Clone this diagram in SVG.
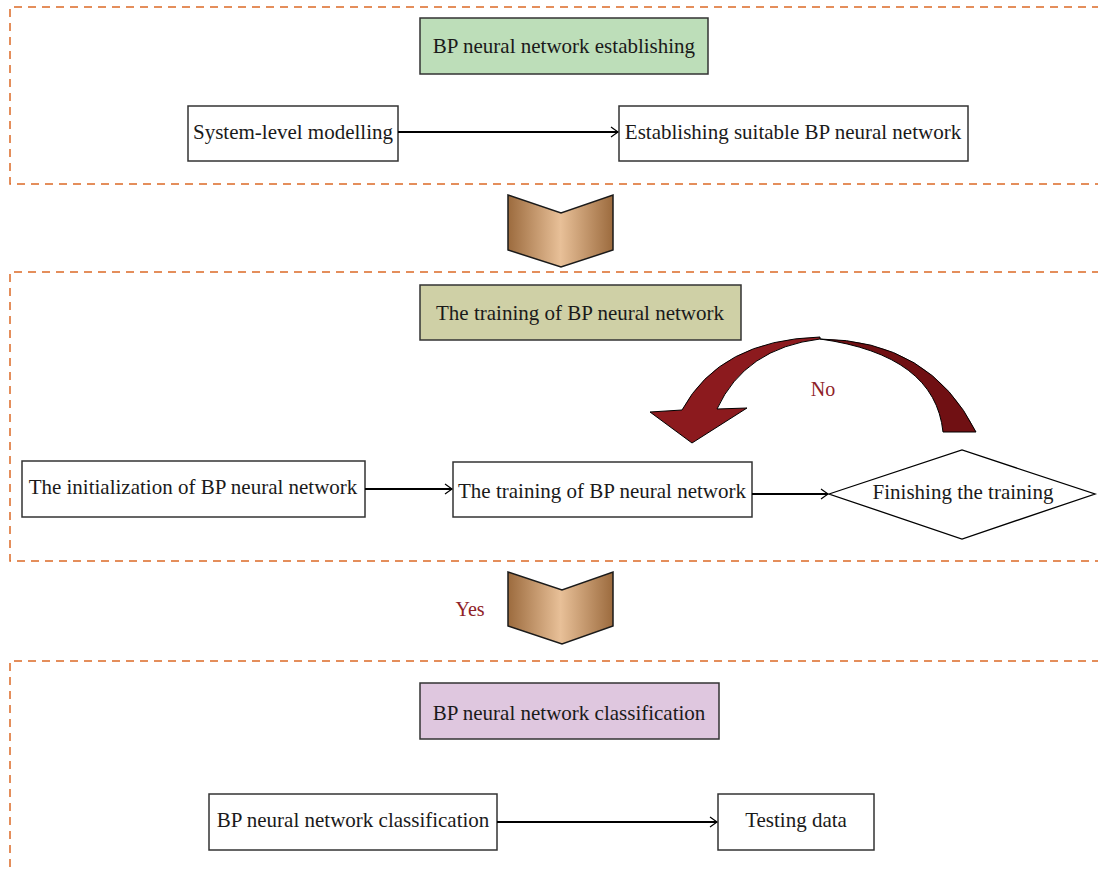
<svg xmlns="http://www.w3.org/2000/svg" width="1098" height="869" viewBox="0 0 1098 869">
  <style>
    .stage { fill: none; stroke: #dc6a26; stroke-width: 1.5; stroke-dasharray: 8 6; }
    .box { fill: #ffffff; stroke: #333333; stroke-width: 1.5; }
    .title { stroke: #333333; stroke-width: 1.5; }
    .lbl { font-family: "Liberation Serif", "DejaVu Serif", serif; font-size: 21px; fill: #1a1a1a; text-anchor: middle; dominant-baseline: central; }
    .red { font-family: "Liberation Serif", "DejaVu Serif", serif; font-size: 20px; fill: #8f2228; text-anchor: middle; dominant-baseline: central; }
    .conn { fill: none; stroke: #000000; stroke-width: 1.8; }
    .chev { fill: url(#bronze); stroke: #1a1a1a; stroke-width: 1.5; stroke-linejoin: miter; }
  </style>
  <defs>
    <linearGradient id="bronze" x1="0" y1="0" x2="1" y2="0">
      <stop offset="0" stop-color="#9c6b3e"/>
      <stop offset="0.5" stop-color="#e8c098"/>
      <stop offset="1" stop-color="#9c6b3e"/>
    </linearGradient>
    <marker id="open" markerUnits="userSpaceOnUse" markerWidth="12" markerHeight="12" refX="9" refY="6" orient="auto">
      <path d="M2,1 L9,6 L2,11" fill="none" stroke="#000" stroke-width="1.2"/>
    </marker>
  </defs>

  <!-- dashed stage frames -->
  <g id="stages">
    <path class="stage" d="M1100,7 H10 V184 H1100"/>
    <path class="stage" d="M1100,272 H10 V561 H1100"/>
    <path class="stage" d="M1100,661 H10 V872"/>
  </g>

  <!-- stage 1 -->
  <g id="title-establishing">
    <rect class="title" x="420" y="18" width="288" height="56" fill="#bddeb9"/>
    <text class="lbl" x="564" y="46">BP neural network establishing</text>
  </g>
  <g id="system-level">
    <rect class="box" x="188" y="106" width="210" height="55"/>
    <text class="lbl" x="293" y="132">System-level modelling</text>
  </g>
  <g id="establishing">
    <rect class="box" x="619" y="106" width="349" height="55"/>
    <text class="lbl" x="793" y="132">Establishing suitable BP neural network</text>
  </g>

  <!-- chevrons between stages -->
  <g id="chevron-1">
    <polygon class="chev" points="508,195 561,213 613,195 613,250 561,267 508,250"/>
  </g>
  <g id="chevron-2">
    <polygon class="chev" points="508,572 562,590 613,572 613,626 562,644 508,626"/>
  </g>

  <!-- stage 2 -->
  <g id="title-training">
    <rect class="title" x="420" y="285" width="321" height="55" fill="#cfd0a6"/>
    <text class="lbl" x="580" y="313">The training of BP neural network</text>
  </g>
  <g id="initialization">
    <rect class="box" x="22" y="461" width="343" height="56"/>
    <text class="lbl" x="193" y="487">The initialization of BP neural network</text>
  </g>
  <g id="training">
    <rect class="box" x="453" y="462" width="299" height="55"/>
    <text class="lbl" x="602" y="491">The training of BP neural network</text>
  </g>
  <g id="finishing">
    <polygon fill="#ffffff" stroke="#000" stroke-width="1.3" points="829,494 962,450 1095,494 962,539"/>
    <text class="lbl" x="963" y="492">Finishing the training</text>
  </g>

  <!-- stage 3 -->
  <g id="title-classification">
    <rect class="title" x="420" y="683" width="299" height="56" fill="#dfc7df"/>
    <text class="lbl" x="569" y="713">BP neural network classification</text>
  </g>
  <g id="classification">
    <rect class="box" x="209" y="794" width="288" height="56"/>
    <text class="lbl" x="353" y="820">BP neural network classification</text>
  </g>
  <g id="testing">
    <rect class="box" x="718" y="794" width="156" height="56"/>
    <text class="lbl" x="796" y="820">Testing data</text>
  </g>

  <!-- connectors -->
  <g id="connectors">
    <line class="conn" x1="398" y1="132" x2="618" y2="132" marker-end="url(#open)"/>
    <line class="conn" x1="365" y1="489" x2="452" y2="489" marker-end="url(#open)"/>
    <line class="conn" x1="752" y1="494" x2="828" y2="494" marker-end="url(#open)"/>
    <line class="conn" x1="497" y1="822" x2="717" y2="822" marker-end="url(#open)"/>

    <!-- curved "No" loop back arrow -->
    <path d="M943,432 Q935,355 820,339 Q930,340 976,432 Z" fill="#701013" stroke="#000" stroke-width="1"/>
    <path d="M820,337 Q720,340 682,410 L650,412 L692,443 L747,408 L717,409 Q745,348 820,339 Z" fill="#8c1a1e" stroke="#000" stroke-width="1"/>
    <text class="red" x="823" y="389">No</text>
    <text class="red" x="470" y="609">Yes</text>
  </g>
</svg>
